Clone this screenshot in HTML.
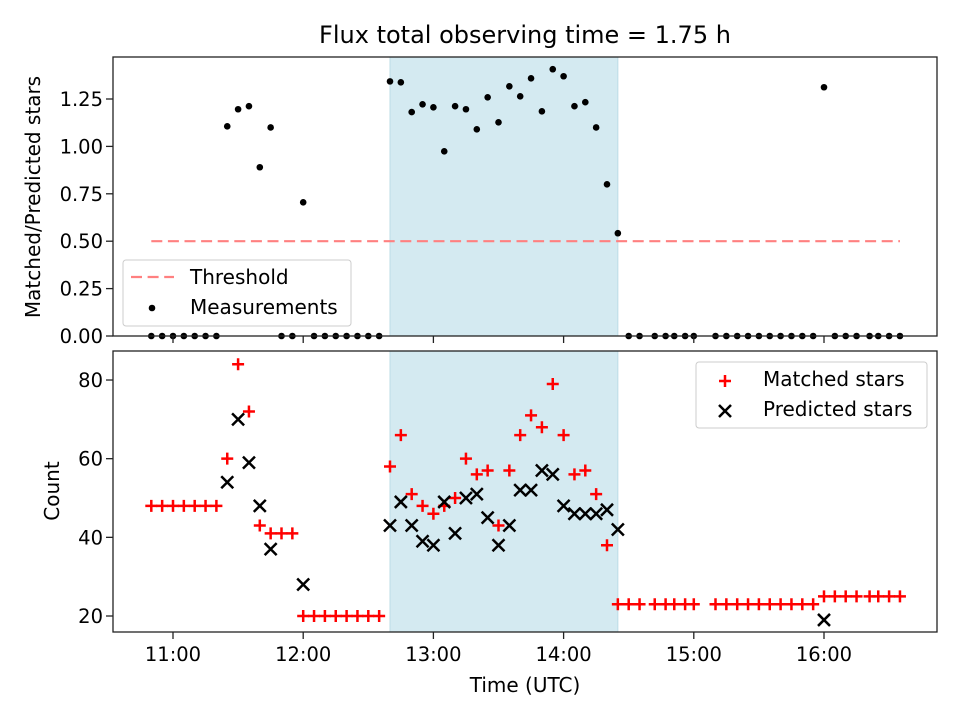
<!DOCTYPE html>
<html><head><meta charset="utf-8"><style>
html,body{margin:0;padding:0;background:#fff;}
svg{display:block;font-family:"DejaVu Sans","Liberation Sans",sans-serif;}
</style></head><body>
<svg id="c" width="960" height="720" viewBox="0 0 960 720"></svg>
<script>
// ---- data ----
const times = ["10:50","10:55","11:00","11:05","11:10","11:15","11:20","11:25","11:30","11:35","11:40","11:45","11:50","11:55","12:00","12:05","12:10","12:15","12:20","12:25","12:30","12:35","12:40","12:45","12:50","12:55","13:00","13:05","13:10","13:15","13:20","13:25","13:30","13:35","13:40","13:45","13:50","13:55","14:00","14:05","14:10","14:15","14:20","14:25","14:30","14:35","14:42","14:47","14:51","14:56","15:00","15:10","15:15","15:20","15:25","15:30","15:35","15:40","15:45","15:50","15:55","16:00","16:05","16:10","16:15","16:21","16:25","16:30","16:35"];
const matched = [48,48,48,48,48,48,48,60,84,72,43,41,41,41,20,20,20,20,20,20,20,20,58,66,51,48,46,48,50,60,56,57,43,57,66,71,68,79,66,56,57,51,38,23,23,23,23,23,23,23,23,23,23,23,23,23,23,23,23,23,23,25,25,25,25,25,25,25,25];
const predicted = [null,null,null,null,null,null,null,54,70,59,48,37,null,null,28,null,null,null,null,null,null,null,43,49,43,39,38,49,41,50,51,45,38,43,52,52,57,56,48,46,46,46,47,42,null,null,null,null,null,null,null,null,null,null,null,null,null,null,null,null,null,19,null,null,null,null,null,null,null];
const ratio = [0,0,0,0,0,0,0,1.106,1.196,1.212,0.89,1.10,0,0,0.705,0,0,0,0,0,0,0,1.343,1.338,1.181,1.222,1.206,0.974,1.212,1.196,1.09,1.259,1.127,1.317,1.264,1.359,1.185,1.407,1.37,1.212,1.233,1.10,0.80,0.542,0,0,0,0,0,0,0,0,0,0,0,0,0,0,0,0,0,1.312,0,0,0,0,0,0,0];
const threshold = 0.5;
const spanStart = "12:40", spanEnd = "14:25";
const xTickLabels = ["11:00","12:00","13:00","14:00","15:00","16:00"];
const topTicks = [0,0.25,0.5,0.75,1.0,1.25];
const botTicks = [20,40,60,80];

// ---- scales ----
const L=113,R=937,T1=57,B1=336,T2=351,B2=632;
function hrs(s){const p=s.split(":");return +p[0]+(+p[1])/60;}
function X(h){return 173+(h-11)*130.2;}
function Y1(v){return B1-v*189.6;}
function Y2(v){return 616-(v-20)*3.933;}
const svg=document.getElementById('c');
const NS="http://www.w3.org/2000/svg";
function el(tag,attrs,parent){const e=document.createElementNS(NS,tag);for(const k in attrs)e.setAttribute(k,attrs[k]);(parent||svg).appendChild(e);return e;}
function txt(s,attrs,parent){const e=el('text',attrs,parent);e.textContent=s;return e;}

// spans
[[T1,B1],[T2,B2]].forEach(function(p,i){
  const r=el('rect',{x:X(hrs(spanStart)),y:p[0],width:X(hrs(spanEnd))-X(hrs(spanStart)),height:p[1]-p[0],fill:'#d4eaf1',stroke:'#bcdce6','stroke-width':1});
  
  
});

// threshold
const th=el('line',{x1:X(hrs(times[0])),x2:X(hrs(times[times.length-1])),y1:Y1(threshold),y2:Y1(threshold),stroke:'#ff8080','stroke-width':2.2,'stroke-dasharray':'11,5.6'});



// top points
const gTop=el('g',{});


times.forEach(function(t,i){
  const c=el('circle',{cx:X(hrs(t)),cy:Y1(ratio[i]),r:3.3,fill:'#000'},gTop);
  
  
});

// bottom points
const gM=el('g',{});


const gP=el('g',{});


times.forEach(function(t,i){
  const x=X(hrs(t));
  if(predicted[i]!==null){
    const y=Y2(predicted[i]);
    const p=el('path',{d:'M'+(x-6)+','+(y-6)+'L'+(x+6)+','+(y+6)+'M'+(x-6)+','+(y+6)+'L'+(x+6)+','+(y-6),stroke:'#000','stroke-width':2.5},gP);
    
    
  }
  const y=Y2(matched[i]);
  const m=el('path',{d:'M'+(x-6)+','+y+'L'+(x+6)+','+y+'M'+x+','+(y-6)+'L'+x+','+(y+6),stroke:'#ff0000','stroke-width':2.5},gM);
  
  
});

// axes frames
[[T1,B1,'top-axes-frame'],[T2,B2,'bottom-axes-frame']].forEach(function(p){
  const f=el('rect',{x:L,y:p[0],width:R-L,height:p[1]-p[0],fill:'none',stroke:'#222','stroke-width':1.3});
  
  
});

// x ticks
xTickLabels.forEach(function(s){
  const x=X(hrs(s));
  el('line',{x1:x,x2:x,y1:B1,y2:B1+7,stroke:'#222','stroke-width':1.3});
  el('line',{x1:x,x2:x,y1:B2,y2:B2+7,stroke:'#222','stroke-width':1.3});
  const t=txt(s,{x:x,y:B2+29,'font-size':19.5,'text-anchor':'middle',fill:'#000'});
  
  
});
topTicks.forEach(function(v){
  const y=Y1(v);
  el('line',{x1:L-7,x2:L,y1:y,y2:y,stroke:'#222','stroke-width':1.3});
  const t=txt(v.toFixed(2),{x:L-10,y:y+7,'font-size':19.5,'text-anchor':'end',fill:'#000'});
  
  
});
botTicks.forEach(function(v){
  const y=Y2(v);
  el('line',{x1:L-7,x2:L,y1:y,y2:y,stroke:'#222','stroke-width':1.3});
  const t=txt(String(v),{x:L-10,y:y+7,'font-size':19.5,'text-anchor':'end',fill:'#000'});
  
  
});
</script>
<svg width="960" height="720" style="position:absolute;left:0;top:0" viewBox="0 0 960 720">
<text x="525" y="43" font-size="24" text-anchor="middle" font-family="DejaVu Sans, Liberation Sans, sans-serif">Flux total observing time = 1.75 h</text>
<text x="0" y="0" transform="translate(40,197) rotate(-90)" font-size="20" text-anchor="middle" font-family="DejaVu Sans, Liberation Sans, sans-serif">Matched/Predicted stars</text>
<text x="0" y="0" transform="translate(59,491) rotate(-90)" font-size="20" text-anchor="middle" font-family="DejaVu Sans, Liberation Sans, sans-serif">Count</text>
<text x="525" y="692" font-size="20" text-anchor="middle" font-family="DejaVu Sans, Liberation Sans, sans-serif">Time (UTC)</text>
<g font-family="DejaVu Sans, Liberation Sans, sans-serif" font-size="20">
<rect x="123" y="260" width="228" height="66" rx="3" fill="#fff" fill-opacity="0.8" stroke="#ccc"/>
<line x1="131" x2="174" y1="277" y2="277" stroke="#ff8080" stroke-width="2.2" stroke-dasharray="11,5.6"/>
<text x="190" y="284">Threshold</text>
<circle cx="152" cy="308" r="3.3" fill="#000"/>
<text x="190" y="314">Measurements</text>
</g>
<g font-family="DejaVu Sans, Liberation Sans, sans-serif" font-size="20">
<rect x="696" y="362" width="231" height="66" rx="3" fill="#fff" fill-opacity="0.8" stroke="#ccc"/>
<path d="M719,381L731,381M725,375L725,387" stroke="#f00" stroke-width="2.5"/>
<text x="763" y="386">Matched stars</text>
<path d="M719,405L731,417M719,417L731,405" stroke="#000" stroke-width="2.5"/>
<text x="763" y="416">Predicted stars</text>
</g>
</svg>
</body></html>
